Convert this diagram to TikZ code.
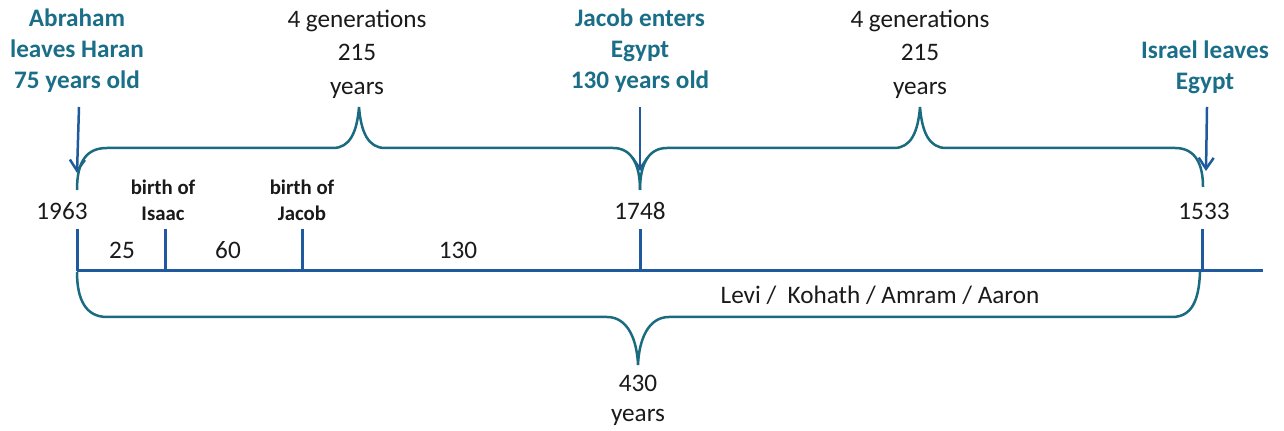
\documentclass[tikz,border=0pt]{standalone}
\usepackage{fontspec}
\setmainfont{Carlito}
\usepackage{xcolor}
\definecolor{Teal}{HTML}{1B6B80}
\definecolor{TealText}{HTML}{1A6E88}
\definecolor{LineBlue}{HTML}{1F5A9E}
\definecolor{Ink}{HTML}{1A1A1A}
\usetikzlibrary{arrows.meta}

\begin{document}
\begin{tikzpicture}[
  x=0.5pt,y=-0.5pt,
  event/.style={align=center,inner sep=0pt,text=TealText,font=\fontsize{12.6}{15.5}\selectfont\bfseries},
  span/.style={align=center,inner sep=0pt,text=Ink,font=\fontsize{12.6}{16.8}\selectfont},
  year/.style={inner sep=0pt,text=Ink,font=\fontsize{12.6}{15}\selectfont},
  birth/.style={align=center,inner sep=0pt,text=Ink,font=\fontsize{10.4}{13}\selectfont\bfseries},
  brace/.style={draw=Teal,line width=1.25pt},
  axis/.style={draw=LineBlue,line width=1.5pt},
  arrow/.style={-{Straight Barb[length=5.5pt,width=7.5pt]},draw=LineBlue,line width=1.25pt}
]
  \useasboundingbox (0,0) rectangle (1284,431);

  % events above the time line
  \node[event] (abraham) at (77,51) {Abraham\\leaves Haran\\75 years old};
  \node[event] (jacob) at (640,51) {Jacob enters\\Egypt\\130 years old};
  \node[event] (exodus) at (1205,67) {Israel leaves\\Egypt};
  \node[span] (genA) at (357,54) {4 generations\\215\\years};
  \node[span] (genB) at (920,54) {4 generations\\215\\years};

  \coordinate (abrTop) at (79,107);
  \coordinate (abrTip) at (77,173);
  \coordinate (jacTop) at (640,107);
  \coordinate (jacTip) at (640,171);
  \coordinate (exoTop) at (1207,107);
  \coordinate (exoTip) at (1206,171);
  \draw[arrow] (abrTop) -- (abrTip);
  \draw[arrow] (jacTop) -- (jacTip);
  \draw[arrow] (exoTop) -- (exoTip);

  % two braces of 215 years
  \draw[brace] (77,190) .. controls (77,162) and (86,148) .. (107,148) -- (333,148)
    .. controls (350,148) and (357,132) .. (359,107)
    .. controls (361,132) and (368,148) .. (385,148) -- (613,148)
    .. controls (632,148) and (640,165) .. (640,190);
  \draw[brace] (640,190) .. controls (640,165) and (648,148) .. (667,148) -- (894,148)
    .. controls (911,148) and (918,132) .. (920,107)
    .. controls (922,132) and (929,148) .. (946,148) -- (1175,148)
    .. controls (1196,148) and (1203,165) .. (1203,187);

  % dates
  \node[year] (d1963) at (62,211) {1963};
  \node[year] (d1748) at (640,211) {1748};
  \node[year] (d1533) at (1204,211) {1533};
  \node[birth] (isaac) at (163,200) {birth of\\Isaac};
  \node[birth] (jacobb) at (302,200) {birth of\\Jacob};

  % time line and ticks
  \coordinate (lineL) at (77,271);
  \coordinate (lineR) at (1263,271);
  \draw[axis] (lineL) -- (lineR);
  \foreach \tx/\tn in {77/a,165/b,302/c,640/d,1202/e} {
    \coordinate (tick\tn) at (\tx,229);
    \coordinate (foot\tn) at (\tx,271);
    \draw[axis] (tick\tn) -- (foot\tn);
  }
  \node[year] (n25) at (122,250) {25};
  \node[year] (n60) at (228,250) {60};
  \node[year] (n130) at (458,250) {130};
  \node[year] (levi) at (880,295) {Levi /\ \ Kohath / Amram / Aaron};

  % brace of 430 years
  \draw[brace] (77,272) .. controls (77,300) and (86,317) .. (107,317) -- (607,317)
    .. controls (628,317) and (637,340) .. (638,365)
    .. controls (639,340) and (648,317) .. (669,317) -- (1172,317)
    .. controls (1192,317) and (1199,300) .. (1200,272);
  \node[year,align=center] (total) at (638,400) {430\\years};
\end{tikzpicture}
\end{document}
